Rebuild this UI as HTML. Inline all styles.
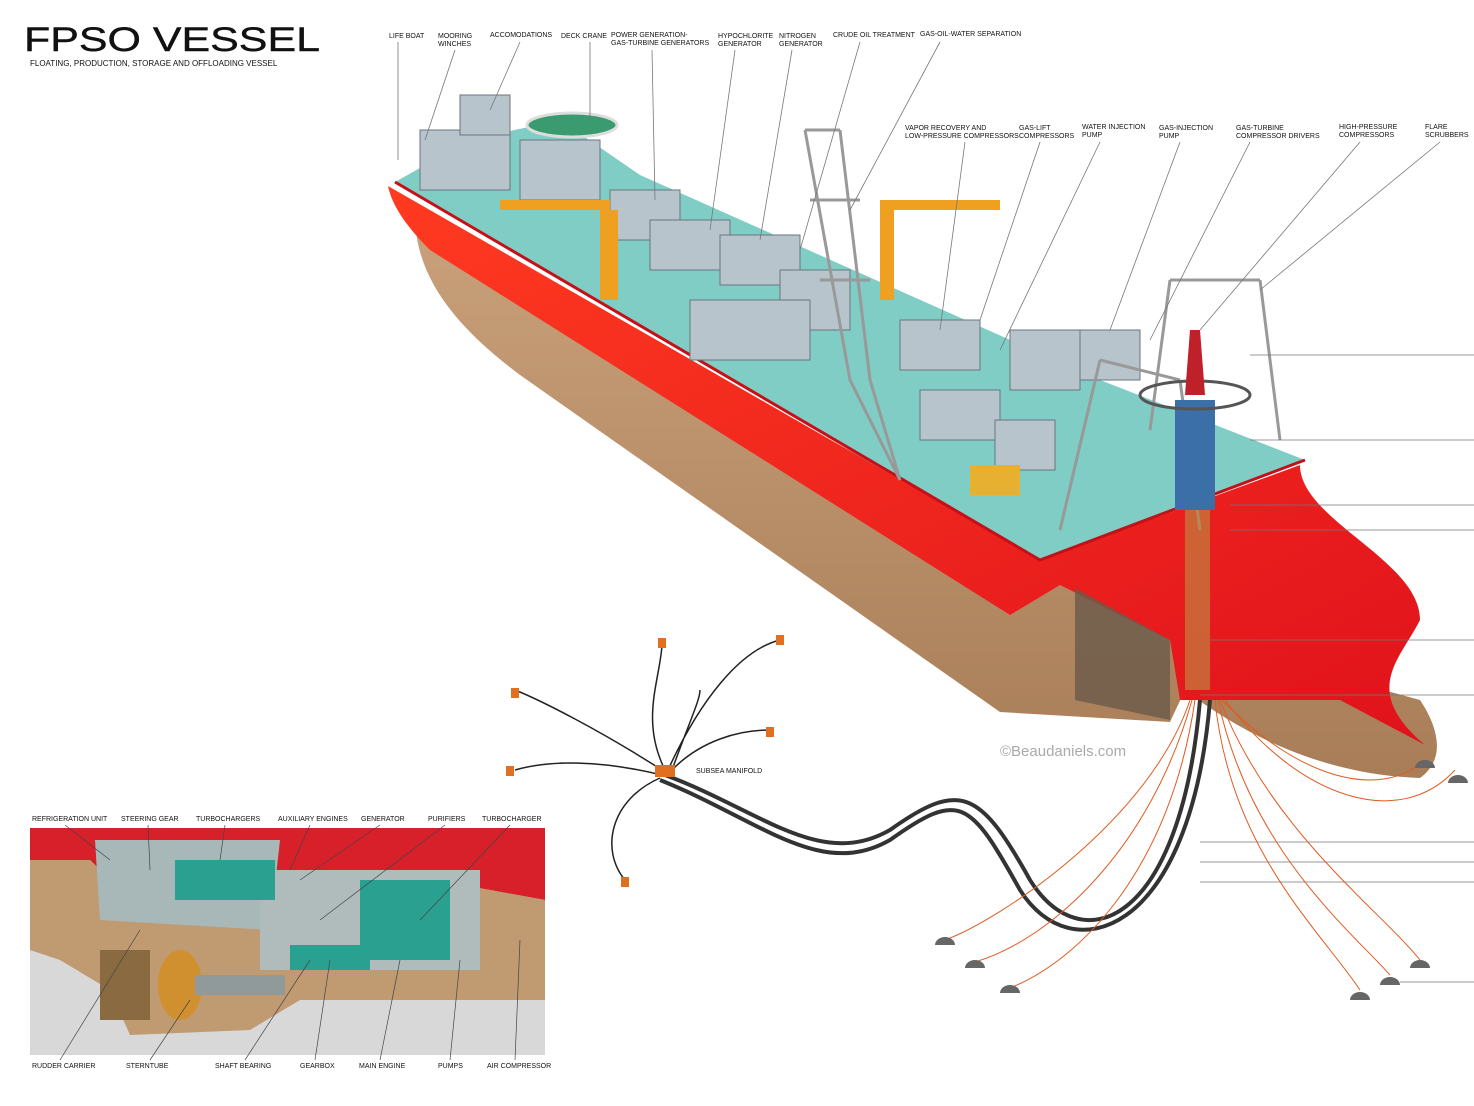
<!DOCTYPE html>
<html><head><meta charset="utf-8"><style>
html,body{margin:0;padding:0;background:#fff;}
svg{display:block}
text{font-family:"Liberation Sans",sans-serif;fill:#111}
.l{font-size:7px}
</style></head><body>
<svg width="1474" height="1106" viewBox="0 0 1474 1106" xmlns="http://www.w3.org/2000/svg">
<defs>
<linearGradient id="hull" x1="0" y1="0" x2="0" y2="1"><stop offset="0" stop-color="#c9a17a"/><stop offset="1" stop-color="#a87d57"/></linearGradient>
<linearGradient id="bow" x1="0" y1="0" x2="1" y2="1"><stop offset="0" stop-color="#ff3a20"/><stop offset="1" stop-color="#e0121c"/></linearGradient>
</defs>
<text x="24" y="51" textLength="296" lengthAdjust="spacingAndGlyphs" style="font-size:34px;stroke:#111;stroke-width:.4">FPSO VESSEL</text>
<text x="30" y="66" style="font-size:8px">FLOATING, PRODUCTION, STORAGE AND OFFLOADING VESSEL</text>

<path d="M415,215 C415,280 460,330 520,375 L1000,712 L1170,722 L1185,690 C1250,740 1330,775 1420,778 C1445,760 1440,730 1420,700 L1200,640 Z" fill="url(#hull)"/>
<path d="M388,186 L1040,560 L1300,465 C1300,520 1420,560 1420,620 C1400,660 1360,690 1425,745 L1340,700 L1180,700 L1170,640 L1060,585 L1010,615 L430,250 C405,225 392,205 388,186 Z" fill="url(#bow)"/>
<path d="M1075,588 L1170,640 L1170,720 L1075,700 Z" fill="#6a5a4a" opacity=".8"/>
<path d="M395,182 L470,140 L560,120 L640,175 L1100,380 L1305,460 L1040,560 Z" fill="#7fcdc4"/>
<path d="M395,182 L1040,560 L1305,460" fill="none" stroke="#c41018" stroke-width="3"/>
<g fill="#b8c4cc" stroke="#6a7680" stroke-width="1">
<rect x="420" y="130" width="90" height="60"/><rect x="460" y="95" width="50" height="40"/>
<rect x="520" y="140" width="80" height="60"/>
<rect x="610" y="190" width="70" height="50"/><rect x="650" y="220" width="80" height="50"/>
<rect x="720" y="235" width="80" height="50"/><rect x="780" y="270" width="70" height="60"/>
<rect x="900" y="320" width="80" height="50"/><rect x="1010" y="330" width="70" height="60"/>
<rect x="1080" y="330" width="60" height="50"/><rect x="920" y="390" width="80" height="50"/>
<rect x="995" y="420" width="60" height="50"/><rect x="690" y="300" width="120" height="60"/>
</g>
<ellipse cx="572" cy="125" rx="45" ry="12" fill="#3a9a70" stroke="#ddd" stroke-width="3"/>
<g fill="#f0a020"><rect x="600" y="210" width="18" height="90"/><rect x="500" y="200" width="110" height="10"/><rect x="880" y="200" width="14" height="100"/><rect x="880" y="200" width="120" height="10"/></g>
<rect x="970" y="465" width="50" height="30" fill="#e8b030"/>
<g stroke="#999" stroke-width="3" fill="none">
<path d="M805,130 L850,380 L900,480 M840,130 L870,380 L900,480 M805,130 L840,130 M810,200 L860,200 M820,280 L870,280"/>
<path d="M1260,280 L1280,440 M1170,280 L1150,430 M1100,360 L1060,530 M1180,380 L1200,530 M1100,360 L1180,380 M1170,280 L1260,280"/>
</g>
<rect x="1175" y="400" width="40" height="110" fill="#3a6fa8"/>
<rect x="1185" y="510" width="25" height="180" fill="#c08040" opacity=".7"/>
<ellipse cx="1195" cy="395" rx="55" ry="14" fill="none" stroke="#555" stroke-width="3"/>
<path d="M1190,330 L1200,330 L1205,395 L1185,395 Z" fill="#c0202a"/>
<text x="1000" y="756" style="font-size:15px;fill:#aaa">©Beaudaniels.com</text>

<g class="l">
<text x="389" y="38">LIFE BOAT</text>
<text x="438" y="38">MOORING</text><text x="438" y="46">WINCHES</text>
<text x="490" y="37">ACCOMODATIONS</text>
<text x="561" y="38">DECK CRANE</text>
<text x="611" y="37">POWER GENERATION-</text><text x="611" y="45">GAS-TURBINE GENERATORS</text>
<text x="718" y="38">HYPOCHLORITE</text><text x="718" y="46">GENERATOR</text>
<text x="779" y="38">NITROGEN</text><text x="779" y="46">GENERATOR</text>
<text x="833" y="37">CRUDE OIL TREATMENT</text>
<text x="920" y="36">GAS-OIL-WATER SEPARATION</text>
<text x="905" y="130">VAPOR RECOVERY AND</text><text x="905" y="138">LOW-PRESSURE COMPRESSORS</text>
<text x="1019" y="130">GAS-LIFT</text><text x="1019" y="138">COMPRESSORS</text>
<text x="1082" y="129">WATER INJECTION</text><text x="1082" y="137">PUMP</text>
<text x="1159" y="130">GAS-INJECTION</text><text x="1159" y="138">PUMP</text>
<text x="1236" y="130">GAS-TURBINE</text><text x="1236" y="138">COMPRESSOR DRIVERS</text>
<text x="1339" y="129">HIGH-PRESSURE</text><text x="1339" y="137">COMPRESSORS</text>
<text x="1425" y="129">FLARE</text><text x="1425" y="137">SCRUBBERS</text>
<text x="696" y="773">SUBSEA MANIFOLD</text>
</g>
<g stroke="#777" stroke-width=".8" fill="none">
<path d="M398,42 L398,160 M455,50 L425,140 M520,42 L490,110 M590,42 L590,120 M652,50 L655,200 M735,50 L710,230 M792,50 L760,240 M860,42 L800,250 M940,42 L850,210 M965,142 L940,330 M1040,142 L980,320 M1100,142 L1000,350 M1180,142 L1110,330 M1250,142 L1150,340 M1360,142 L1200,330 M1440,142 L1260,290"/>
<path d="M1250,355 L1474,355 M1250,440 L1474,440 M1230,505 L1474,505 M1230,530 L1474,530 M1210,640 L1474,640 M1200,695 L1474,695 M1200,842 L1474,842 M1200,862 L1474,862 M1200,882 L1474,882 M1400,982 L1474,982"/>
</g>
<g fill="none" stroke="#222" stroke-width="1.5">
<path d="M665,770 C640,720 660,680 662,645 M668,770 C700,700 740,650 780,640 M665,772 C600,730 540,700 515,690 M670,772 C700,740 740,730 770,730 M662,775 C600,760 550,760 515,770 M660,778 C610,800 600,850 625,880 M672,770 C690,720 700,700 700,690"/>
</g>
<g fill="none" stroke="#333" stroke-width="4">
<path d="M665,775 C760,810 820,870 890,830 C960,780 980,790 1030,880 C1080,960 1180,930 1200,700"/>
<path d="M660,780 C760,820 820,880 890,840 C960,790 970,800 1020,890 C1070,970 1190,940 1210,700"/>
</g>
<g fill="none" stroke="#e05a20" stroke-width="1">
<path d="M1190,700 C1150,820 1000,920 945,940 M1192,700 C1150,850 1050,940 975,962 M1195,700 C1170,870 1080,960 1010,988 M1215,700 C1230,850 1320,930 1360,990 M1218,700 C1250,850 1350,930 1390,975 M1220,700 C1270,830 1380,910 1420,960 M1225,700 C1300,800 1400,830 1455,770 M1222,700 C1300,780 1380,800 1425,760"/>
</g>
<g fill="#666"><path d="M935,945 a10,8 0 0 1 20,0 Z"/><path d="M965,968 a10,8 0 0 1 20,0 Z"/><path d="M1000,993 a10,8 0 0 1 20,0 Z"/><path d="M1350,1000 a10,8 0 0 1 20,0 Z"/><path d="M1380,985 a10,8 0 0 1 20,0 Z"/><path d="M1410,968 a10,8 0 0 1 20,0 Z"/><path d="M1448,783 a10,8 0 0 1 20,0 Z"/><path d="M1415,768 a10,8 0 0 1 20,0 Z"/></g>
<g fill="#e07020"><rect x="658" y="638" width="8" height="10"/><rect x="776" y="635" width="8" height="10"/><rect x="511" y="688" width="8" height="10"/><rect x="766" y="727" width="8" height="10"/><rect x="506" y="766" width="8" height="10"/><rect x="621" y="877" width="8" height="10"/><rect x="655" y="765" width="20" height="12"/></g>

<rect x="30" y="828" width="515" height="227" fill="#d8d8d8"/>
<path d="M30,828 L545,828 L545,900 L380,870 L260,900 L130,900 L90,860 L30,860 Z" fill="#d8202a"/>
<path d="M30,860 L90,860 L130,900 L260,900 L380,870 L545,900 L545,1000 L300,1000 L250,1030 L130,1035 L110,990 L60,960 L30,950 Z" fill="#c09a70"/>
<path d="M95,840 L280,840 L270,930 L100,920 Z" fill="#a8b8b8"/>
<rect x="260" y="870" width="220" height="100" fill="#b0bcbc"/>
<rect x="360" y="880" width="90" height="80" fill="#2aa090"/>
<rect x="175" y="860" width="100" height="40" fill="#2aa090"/>
<rect x="290" y="945" width="80" height="25" fill="#2aa090"/>
<rect x="100" y="950" width="50" height="70" fill="#8a6a40"/>
<ellipse cx="180" cy="985" rx="22" ry="35" fill="#d09030"/>
<rect x="195" y="975" width="90" height="20" fill="#909a9a"/>
<g class="l">
<text x="32" y="821">REFRIGERATION UNIT</text><text x="121" y="821">STEERING GEAR</text><text x="196" y="821">TURBOCHARGERS</text><text x="278" y="821">AUXILIARY ENGINES</text><text x="361" y="821">GENERATOR</text><text x="428" y="821">PURIFIERS</text><text x="482" y="821">TURBOCHARGER</text>
<text x="32" y="1068">RUDDER CARRIER</text><text x="126" y="1068">STERNTUBE</text><text x="215" y="1068">SHAFT BEARING</text><text x="300" y="1068">GEARBOX</text><text x="359" y="1068">MAIN ENGINE</text><text x="438" y="1068">PUMPS</text><text x="487" y="1068">AIR COMPRESSOR</text>
</g>
<g stroke="#444" stroke-width=".7" fill="none">
<path d="M65,825 L110,860 M148,825 L150,870 M225,825 L220,860 M310,825 L290,870 M380,825 L300,880 M445,825 L320,920 M510,825 L420,920 M60,1060 L140,930 M150,1060 L190,1000 M245,1060 L310,960 M315,1060 L330,960 M380,1060 L400,960 M450,1060 L460,960 M515,1060 L520,940"/>
</g>
</svg>
</body></html>
